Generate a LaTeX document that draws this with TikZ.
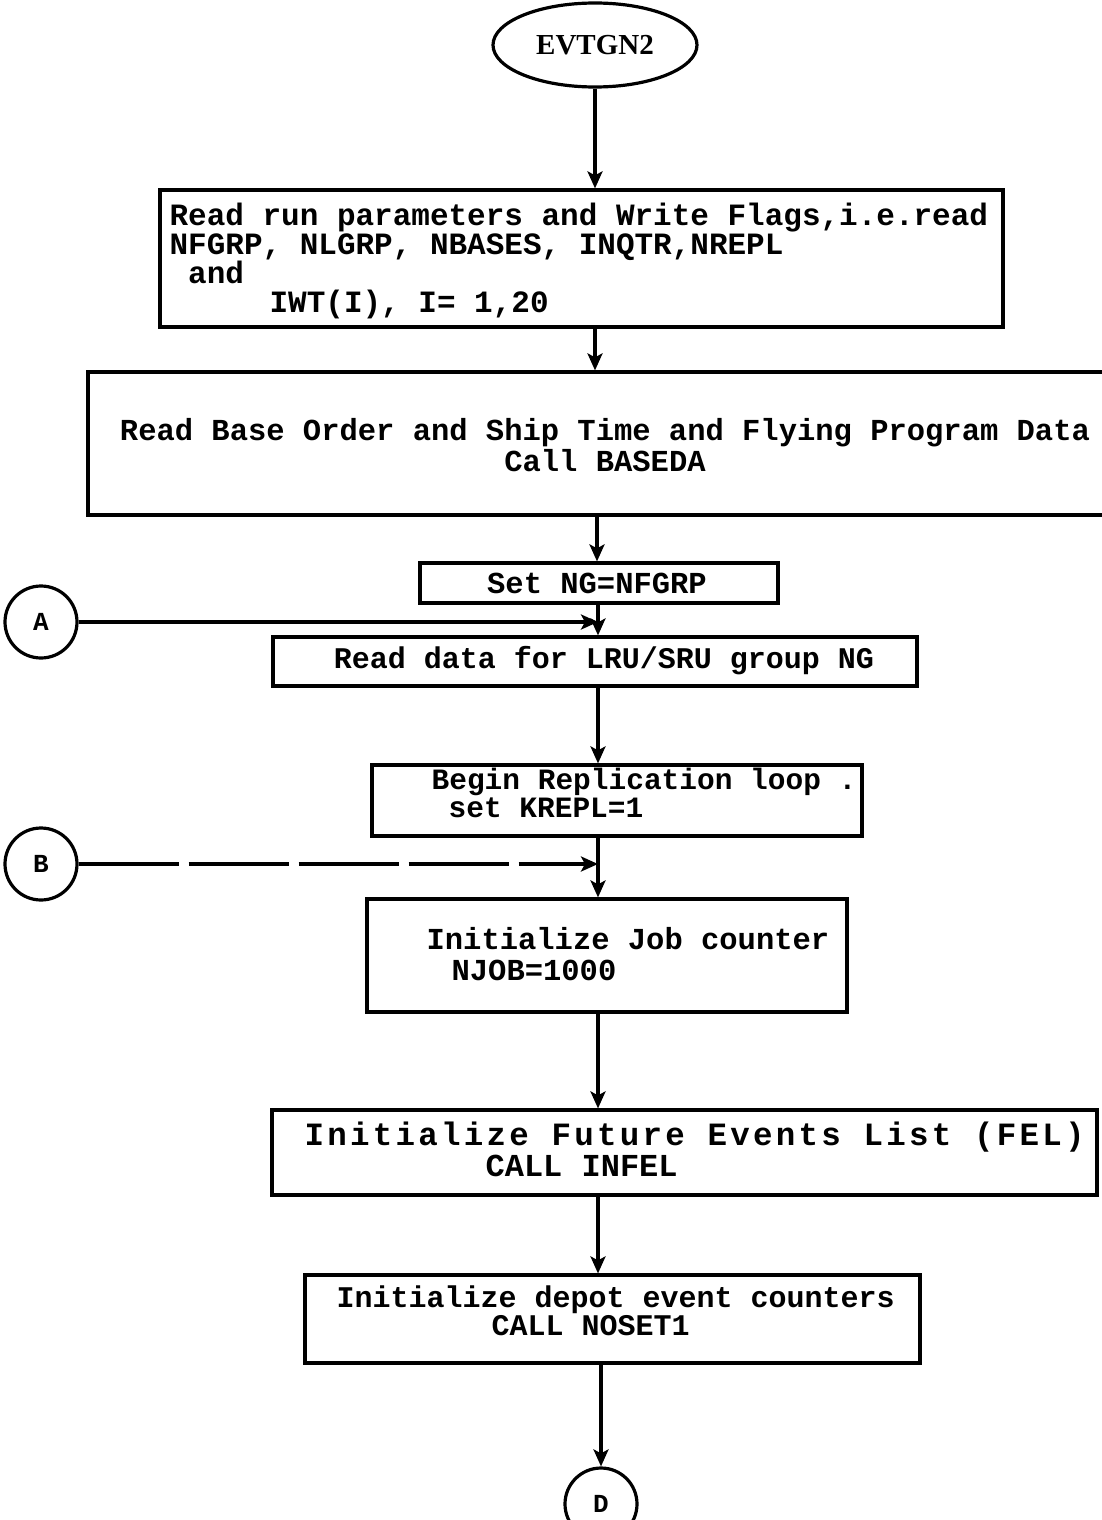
\documentclass[tikz,border=0pt]{standalone}
\usepackage{fontspec}
\setmonofont{Liberation Mono}
\newfontfamily\titlefont{Liberation Serif}
\newfontfamily\wideMono[LetterSpace=10]{Liberation Mono}
\usetikzlibrary{arrows.meta,shapes.geometric}
\begin{document}
\begin{tikzpicture}[x=1pt,y=-1pt,
  line width=3.2pt,
  arr/.style={-{Stealth[length=17pt,width=15pt,inset=4pt]}},
  procbox/.style={draw, rectangle, inner sep=0pt},
  txt/.style={inner sep=0pt, font=\ttfamily\bfseries\fontsize{30.5}{31}\selectfont},
  conn/.style={draw, circle, minimum size=72pt, inner sep=0pt, font=\ttfamily\bfseries\fontsize{26}{26}\selectfont},
]
\useasboundingbox (0,0) rectangle (1102,1520);
% start terminal
\node[draw, ellipse, minimum width=204pt, minimum height=84pt, inner sep=0pt,
      font=\titlefont\bfseries\fontsize{29}{29}\selectfont] (e) at (595,45) {EVTGN2};
% boxes
\node[procbox, minimum width=843pt, minimum height=137pt] (b1) at (581.5,258.5) {};
\node[procbox, minimum width=1027pt, minimum height=143pt] (b2) at (601.5,443.5) {};
\node[procbox, minimum width=358pt, minimum height=40pt] (b3) at (599,583) {};
\node[procbox, minimum width=644pt, minimum height=49pt] (b4) at (595,661.5) {};
\node[procbox, minimum width=490pt, minimum height=71pt] (b5) at (617,800.5) {};
\node[procbox, minimum width=480pt, minimum height=113pt] (b6) at (607,955.5) {};
\node[procbox, minimum width=825pt, minimum height=85pt] (b7) at (684.5,1152.5) {};
\node[procbox, minimum width=615pt, minimum height=88pt] (b8) at (612.5,1319) {};
% texts
\node[txt, anchor=west, align=left, font=\ttfamily\bfseries\fontsize{31}{29}\selectfont] (t1) at (168,261)
  {Read run parameters and Write Flags,i.e.read\\NFGRP, NLGRP, NBASES, INQTR,NREPL\\\ and\\\hspace*{100pt}IWT(I), I= 1,20};
\node[txt, align=center] (t2) at (605,445)
  {Read Base Order and Ship Time and Flying Program Data\\Call BASEDA};
\node[txt] (t3) at (597,583) {Set NG=NFGRP};
\node[txt, font=\ttfamily\bfseries\fontsize{30}{30}\selectfont] (t4) at (604,661) {Read data for LRU/SRU group NG};
\node[txt, anchor=west, align=left, font=\ttfamily\bfseries\fontsize{29.5}{28}\selectfont] (t5) at (430,793)
  {Begin Replication loop .\\\hspace*{17pt}set KREPL=1};
\node[txt, anchor=west, align=left] (t6) at (425,954)
  {Initialize Job counter\\\hspace*{25pt}NJOB=1000};
\node[txt, anchor=west, align=left] (t7) at (303,1149)
  {{\wideMono\bfseries\fontsize{32.5}{30}\selectfont Initialize Future Events List (FEL)}\\\hspace*{181pt}{\fontsize{32}{30}\selectfont CALL INFEL}};
\node[txt, anchor=west, align=left, font=\ttfamily\bfseries\fontsize{30}{28}\selectfont] (t8) at (335,1311)
  {Initialize depot event counters\\\hspace*{155pt}CALL NOSET1};
% connectors (off-page)
\node[conn] (A) at (41,622) {A};
\node[conn] (B) at (41,864) {B};
\node[conn] (D) at (601,1504) {D};
% spine coordinates
\coordinate (x1) at (595,0);
\coordinate (x2) at (597,0);
\coordinate (x3) at (598,0);
\coordinate (jA) at (598,622);
\coordinate (jB) at (598,864);
% flow
\draw[arr] (e) -- (e |- b1.north);
\draw[arr] (b1.south -| x1) -- (b2.north -| x1);
\draw[arr, line width=4pt] (b2.south -| x2) -- (b3.north -| x2);
\draw[arr] (b3.south -| x3) -- (b4.north -| x3);
\draw[arr] (b4.south -| x3) -- (b5.north -| x3);
\draw[arr] (b5.south -| x3) -- (b6.north -| x3);
\draw[arr] (b6.south -| x3) -- (b7.north -| x3);
\draw[arr] (b7.south -| x3) -- (b8.north -| x3);
\draw[arr] (b8.south -| D) -- (D);
\draw[arr] (A) -- (jA);
\draw[arr, dash pattern=on 100pt off 10pt] (B) -- (jB);
\end{tikzpicture}
\end{document}
